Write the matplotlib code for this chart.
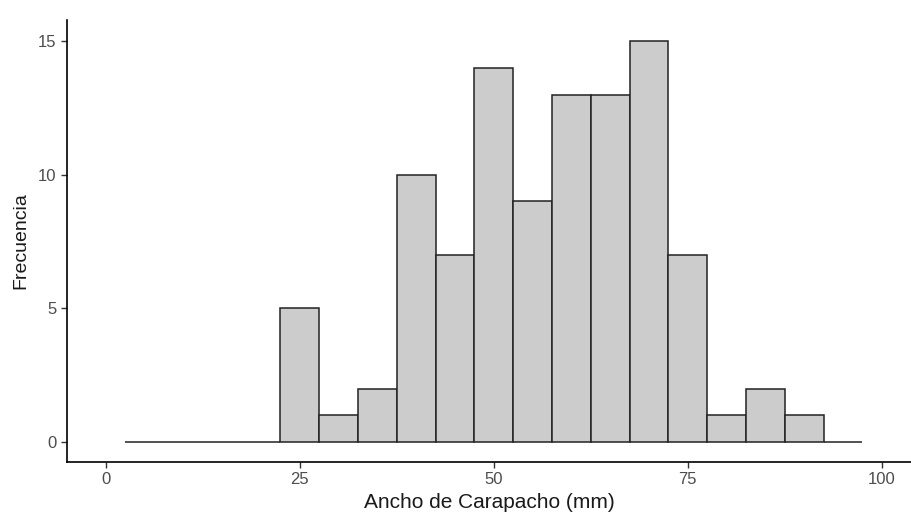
import matplotlib.pyplot as plt

plt.rcParams['font.family'] = ['Liberation Sans', 'DejaVu Sans']

# histogram bins of width 5, centred on 5 .. 95
bin_centres = [5, 10, 15, 20, 25, 30, 35, 40, 45, 50, 55, 60, 65, 70, 75, 80, 85, 90, 95]
counts = [0, 0, 0, 0, 5, 1, 2, 10, 7, 14, 9, 13, 13, 15, 7, 1, 2, 1, 0]
bin_width = 5

x_ticks = [0, 25, 50, 75, 100]
y_ticks = [0, 5, 10, 15]

fig = plt.figure(figsize=(9.12, 5.18), dpi=100)
ax = fig.add_axes([67 / 912, 1 - 462 / 518, 1 - 67 / 912, (462 - 20) / 518])

ax.bar(bin_centres, counts, width=bin_width, color='#CCCCCC',
       edgecolor='#222222', linewidth=1.1)

ax.set_xlim(-5, 103.9)
ax.set_ylim(-0.75, 15.79)
ax.set_xticks(x_ticks)
ax.set_yticks(y_ticks)

for side in ['top', 'right']:
    ax.spines[side].set_visible(False)
for side in ['left', 'bottom']:
    ax.spines[side].set_linewidth(1.2)
    ax.spines[side].set_color('black')

ax.tick_params(axis='both', colors='#333333', labelcolor='#4D4D4D',
               labelsize=12, length=4, width=1)

ax.set_xlabel('Ancho de Carapacho (mm)', fontsize=15, color='#1A1A1A', labelpad=4)
ax.set_ylabel('Frecuencia', fontsize=14, color='#1A1A1A', labelpad=6)

fig.savefig('out.png', dpi=100)
